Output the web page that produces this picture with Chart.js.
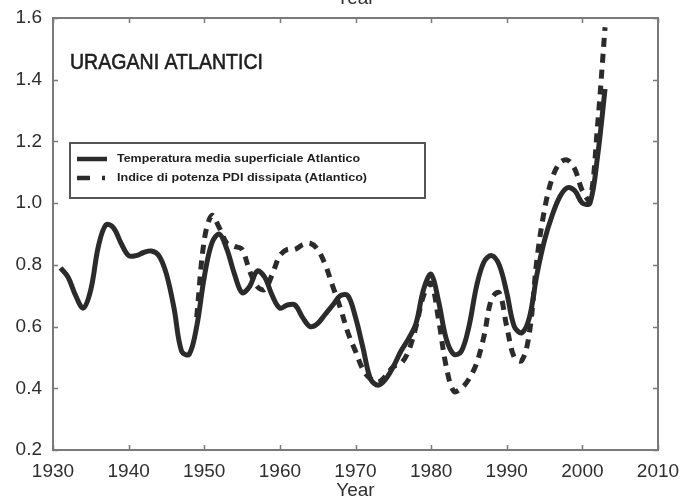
<!DOCTYPE html>
<html>
<head>
<meta charset="utf-8">
<script src="https://cdn.jsdelivr.net/npm/chart.js@4/dist/chart.umd.min.js"></script>
<style>
  html, body { margin: 0; padding: 0; background: #fff; }
  #wrap { width: 683px; height: 499px; position: relative; }
</style>
</head>
<body>
<div id="wrap"><canvas id="c" width="683" height="499"></canvas></div>
<script>
// Sea-surface temperature (solid) and power dissipation index (dashed), Atlantic
const sstYears = [];
for (let y = 1931; y <= 2003; y++) sstYears.push(y);
const sstValues = [
  0.79, 0.76, 0.70, 0.66, 0.72, 0.86, 0.93, 0.92, 0.87, 0.83,
  0.83, 0.84, 0.845, 0.83, 0.77, 0.66, 0.52, 0.51, 0.60, 0.76,
  0.87, 0.90, 0.85, 0.77, 0.71, 0.73, 0.78, 0.76, 0.70, 0.66,
  0.67, 0.67, 0.63, 0.60, 0.61, 0.64, 0.67, 0.70, 0.70, 0.63,
  0.53, 0.43, 0.41, 0.43, 0.47, 0.52, 0.56, 0.61, 0.72, 0.77,
  0.68, 0.56, 0.51, 0.52, 0.60, 0.73, 0.81, 0.83, 0.80, 0.71,
  0.60, 0.58, 0.63, 0.77, 0.88, 0.96, 1.02, 1.05, 1.04, 1.00,
  1.00, 1.15, 1.37
];
const pdiYears = [];
for (let y = 1949; y <= 2003; y++) pdiYears.push(y);
const pdiValues = [
  0.63, 0.88, 0.96, 0.92, 0.87, 0.86, 0.85, 0.78, 0.73, 0.72,
  0.77, 0.83, 0.85, 0.85, 0.865, 0.87, 0.85, 0.80, 0.73, 0.66,
  0.58, 0.52, 0.46, 0.43, 0.42, 0.44, 0.47, 0.48, 0.52, 0.60,
  0.70, 0.74, 0.62, 0.47, 0.39, 0.40, 0.43, 0.48, 0.57, 0.69,
  0.71, 0.60, 0.50, 0.49, 0.58, 0.82, 0.98, 1.08, 1.13, 1.14,
  1.11, 1.04, 1.01, 1.25, 1.57
];
const seriesLabels = [
  'Temperatura media superficiale Atlantico',
  'Indice di potenza PDI dissipata (Atlantico)'
];
const xTicks = [1930, 1940, 1950, 1960, 1970, 1980, 1990, 2000, 2010];
const yTicks = [0.2, 0.4, 0.6, 0.8, 1.0, 1.2, 1.4, 1.6];
const panelTitle = 'URAGANI ATLANTICI';
const axisTitle = 'Year';

const ink = '#2b2b2b';
const frameColor = '#7a7a7a';
const textColor = '#2e2e2e';
const labelFont = '"Liberation Sans", Arial, sans-serif';

const toPoints = (xs, ys) => xs.map((x, i) => ({ x: x, y: ys[i] }));

// Frame, inward tick marks on all four sides, panel title and legend box
const decorPlugin = {
  id: 'decor',
  afterDraw(chart) {
    const ctx = chart.ctx;
    const a = chart.chartArea;
    const xs = chart.scales.x, ys = chart.scales.y;
    ctx.save();
    ctx.strokeStyle = frameColor;
    ctx.lineWidth = 2;
    ctx.strokeRect(a.left, a.top, a.right - a.left, a.bottom - a.top);
    ctx.lineWidth = 1.5;
    const t = 5;
    ctx.beginPath();
    xTicks.forEach(v => {
      const px = Math.round(xs.getPixelForValue(v)) + 0.5;
      ctx.moveTo(px, a.bottom); ctx.lineTo(px, a.bottom - t);
      ctx.moveTo(px, a.top); ctx.lineTo(px, a.top + t);
    });
    yTicks.forEach(v => {
      const py = Math.round(ys.getPixelForValue(v)) + 0.5;
      ctx.moveTo(a.left, py); ctx.lineTo(a.left + t, py);
      ctx.moveTo(a.right, py); ctx.lineTo(a.right - t, py);
    });
    ctx.stroke();

    // second "Year" caption, above the frame and cut by the page edge
    ctx.fillStyle = textColor;
    ctx.font = '19px ' + labelFont;
    ctx.textAlign = 'center';
    ctx.textBaseline = 'alphabetic';
    ctx.fillText(axisTitle, (a.left + a.right) / 2, 4);

    // panel title
    ctx.fillStyle = '#1e1e1e';
    ctx.strokeStyle = '#1e1e1e';
    ctx.lineWidth = 0.6;
    ctx.font = '22px "Liberation Sans Narrow", "Liberation Sans", Arial, sans-serif';
    ctx.textAlign = 'left';
    ctx.textBaseline = 'alphabetic';
    const tw = ctx.measureText(panelTitle).width;
    ctx.save();
    ctx.translate(70, 69);
    ctx.scale(193 / tw, 1);
    ctx.fillText(panelTitle, 0, 0);
    ctx.strokeText(panelTitle, 0, 0);
    ctx.restore();

    // legend
    const lx = 70, ly = 143, lw = 355, lh = 55;
    ctx.fillStyle = '#fff';
    ctx.fillRect(lx, ly, lw, lh);
    ctx.strokeStyle = '#555';
    ctx.lineWidth = 2;
    ctx.strokeRect(lx, ly, lw, lh);
    const rows = [159, 178];
    chart.data.datasets.forEach((ds, i) => {
      ctx.strokeStyle = ds.borderColor;
      ctx.lineWidth = 4.5;
      ctx.setLineDash(i === 0 ? [] : [13, 12, 3, 40]);
      ctx.beginPath();
      ctx.moveTo(77, rows[i]); ctx.lineTo(107, rows[i]);
      ctx.stroke();
      ctx.setLineDash([]);
      ctx.fillStyle = '#1e1e1e';
      ctx.font = 'bold 11px ' + labelFont;
      ctx.textBaseline = 'middle';
      const w = ctx.measureText(ds.label).width;
      const target = i === 0 ? 243 : 250;
      ctx.save();
      ctx.translate(117, rows[i]);
      ctx.scale(target / w, 1);
      ctx.fillText(ds.label, 0, 0);
      ctx.restore();
    });
    ctx.restore();
  }
};

new Chart(document.getElementById('c'), {
  type: 'line',
  data: {
    datasets: [
      {
        label: seriesLabels[0],
        data: toPoints(sstYears, sstValues),
        borderColor: ink,
        borderWidth: 5,
        pointRadius: 0,
        tension: 0.35,
        fill: false
      },
      {
        label: seriesLabels[1],
        data: toPoints(pdiYears, pdiValues),
        borderColor: ink,
        borderWidth: 5,
        borderDash: [9, 7],
        pointRadius: 0,
        tension: 0.35,
        fill: false
      }
    ]
  },
  options: {
    responsive: false,
    animation: false,
    layout: { padding: { top: 18, right: 25, left: 0, bottom: 0 } },
    plugins: {
      legend: { display: false },
      tooltip: { enabled: false },
      title: { display: false }
    },
    scales: {
      x: {
        type: 'linear',
        min: 1930,
        max: 2010,
        afterBuildTicks: s => { s.ticks = xTicks.map(v => ({ value: v })); },
        afterFit: s => { s.height = 49; },
        grid: { display: false },
        border: { display: false },
        ticks: {
          callback: v => String(v),
          color: textColor,
          font: { family: labelFont, size: 19 },
          padding: 2,
          maxRotation: 0,
          autoSkip: false
        },
        title: {
          display: true,
          text: axisTitle,
          color: textColor,
          font: { family: labelFont, size: 19 },
          padding: { top: 0, bottom: -3 }
        }
      },
      y: {
        type: 'linear',
        min: 0.2,
        max: 1.6,
        afterBuildTicks: s => { s.ticks = yTicks.map(v => ({ value: v })); },
        afterFit: s => { s.width = 53; },
        grid: { display: false },
        border: { display: false },
        ticks: {
          callback: v => Number(v).toFixed(1),
          color: textColor,
          font: { family: labelFont, size: 19 },
          padding: 3
        }
      }
    }
  },
  plugins: [decorPlugin]
});
</script>
</body>
</html>
